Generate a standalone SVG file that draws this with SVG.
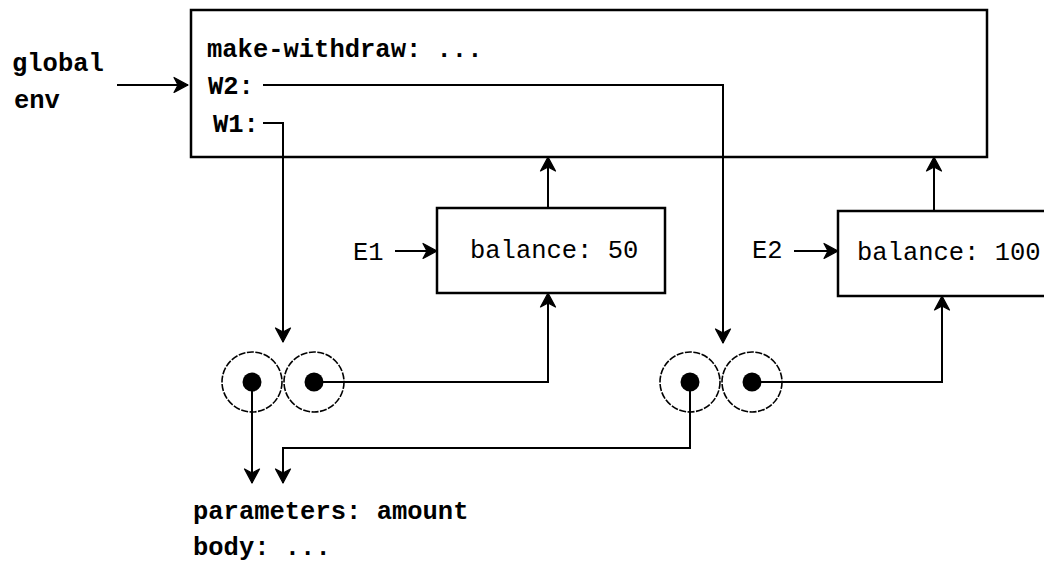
<svg xmlns="http://www.w3.org/2000/svg" width="1044" height="563" viewBox="0 0 1044 563">
<style>
.t{font-family:"Liberation Mono","DejaVu Sans Mono",monospace;font-size:25.5px;fill:#000}
.b{font-weight:bold}
.box{fill:#fff;stroke:#000;stroke-width:2.5}
.ln{fill:none;stroke:#000;stroke-width:2}
.c{fill:none;stroke:#000;stroke-width:1.6;stroke-dasharray:7 1.5}
.dot{fill:#000}
</style>
<defs>
<marker id="ah" viewBox="-16 -9 18 18" refX="0" refY="0" markerWidth="18" markerHeight="18" markerUnits="userSpaceOnUse" orient="auto">
<path d="M0,0 L-14,-7.5 L-10,0 L-14,7.5 Z" fill="#000" stroke="#000" stroke-width="1.2" stroke-linejoin="round"/>
</marker>
</defs>
<rect width="1044" height="563" fill="#fff"/>
<g id="global-frame">
<rect class="box" x="191" y="10" width="796" height="147"/>
<text class="t b" x="207" y="57">make-withdraw: ...</text>
<text class="t b" x="208" y="94">W2:</text>
<text class="t b" x="213" y="132">W1:</text>
</g>
<g id="global-env-label">
<text class="t b" x="12" y="71">global</text>
<text class="t b" x="14" y="108">env</text>
</g>
<g id="E1">
<rect class="box" x="437" y="208" width="228" height="85"/>
<text class="t" x="470" y="258">balance: 50</text>
<text class="t" x="353" y="260">E1</text>
</g>
<g id="E2">
<rect class="box" x="838" y="211" width="220" height="85"/>
<text class="t" x="857" y="260">balance: 100</text>
<text class="t" x="752" y="258">E2</text>
</g>
<g id="proc1">
<circle class="c" cx="252" cy="382" r="30"/>
<circle class="c" cx="314" cy="382" r="30"/>
<circle class="dot" cx="252" cy="382" r="9.5"/>
<circle class="dot" cx="314" cy="382" r="9.5"/>
</g>
<g id="proc2">
<circle class="c" cx="690" cy="382" r="30"/>
<circle class="c" cx="752" cy="382" r="30"/>
<circle class="dot" cx="690" cy="382" r="9.5"/>
<circle class="dot" cx="752" cy="382" r="9.5"/>
</g>
<g id="code">
<text class="t b" x="193" y="519">parameters: amount</text>
<text class="t b" x="193" y="555">body: ...</text>
</g>
<g id="connectors">
<path class="ln" d="M117,85 H188" marker-end="url(#ah)"/>
<path class="ln" d="M263,85 H723 V343" marker-end="url(#ah)"/>
<path class="ln" d="M263,123 H283 V342" marker-end="url(#ah)"/>
<path class="ln" d="M395,251 H437" marker-end="url(#ah)"/>
<path class="ln" d="M794,251 H838" marker-end="url(#ah)"/>
<path class="ln" d="M548,208 V157" marker-end="url(#ah)"/>
<path class="ln" d="M934,211 V157" marker-end="url(#ah)"/>
<path class="ln" d="M314,382 H548 V293" marker-end="url(#ah)"/>
<path class="ln" d="M752,382 H942 V296" marker-end="url(#ah)"/>
<path class="ln" d="M252,382 V483" marker-end="url(#ah)"/>
<path class="ln" d="M690,382 V448 H283 V483" marker-end="url(#ah)"/>
</g>
</svg>
